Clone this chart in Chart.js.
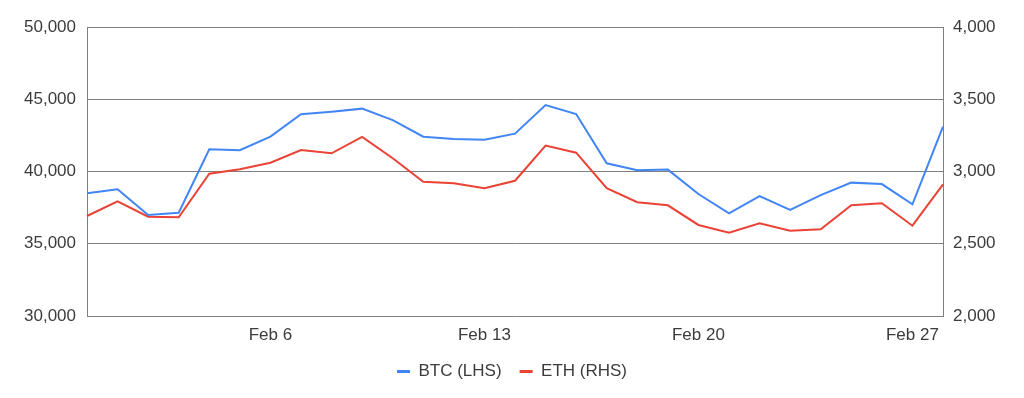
<!DOCTYPE html>
<html>
<head>
<meta charset="utf-8">
<script src="https://cdn.jsdelivr.net/npm/chart.js@4"></script>
<style>
  html, body { margin: 0; padding: 0; background: #fff; }
  #wrap { width: 1024px; height: 398px; position: relative; }
</style>
</head>
<body>
<div id="wrap"><canvas id="c" width="1024" height="398"></canvas></div>
<script>
const dates = ["Jan 31","Feb 1","Feb 2","Feb 3","Feb 4","Feb 5","Feb 6","Feb 7","Feb 8","Feb 9","Feb 10","Feb 11","Feb 12","Feb 13","Feb 14","Feb 15","Feb 16","Feb 17","Feb 18","Feb 19","Feb 20","Feb 21","Feb 22","Feb 23","Feb 24","Feb 25","Feb 26","Feb 27","Feb 28"];
const btc = [38500, 38770, 36990, 37150, 41540, 41470, 42410, 43960, 44140, 44350, 43560, 42410, 42250, 42200, 42620, 44600, 43980, 40570, 40080, 40130, 38440, 37110, 38300, 37340, 38370, 39230, 39130, 37730, 43100];
const eth = [2692, 2794, 2687, 2683, 2985, 3015, 3061, 3149, 3126, 3239, 3092, 2929, 2918, 2884, 2936, 3179, 3130, 2884, 2787, 2766, 2630, 2577, 2642, 2590, 2600, 2766, 2780, 2625, 2911];
const shownDates = ["Feb 6", "Feb 13", "Feb 20", "Feb 27"];
const leftRange = [30000, 50000, 5000];
const rightRange = [2000, 4000, 500];
const seriesNames = ["BTC (LHS)", "ETH (RHS)"];

const BLUE = "#4285F4", RED = "#EA4335", GRID = "#808080", TXT = "#3c3c3c";
const FONT = { family: "'Liberation Sans', Arial, sans-serif", size: 17 };

new Chart(document.getElementById("c"), {
  type: "line",
  data: {
    labels: dates,
    datasets: [
      { label: seriesNames[0], data: btc, yAxisID: "y", borderColor: BLUE, backgroundColor: BLUE, borderWidth: 2, pointRadius: 0, tension: 0, order: 1 },
      { label: seriesNames[1], data: eth, yAxisID: "y1", borderColor: RED, backgroundColor: RED, borderWidth: 2, pointRadius: 0, tension: 0, order: 2 }
    ]
  },
  options: {
    responsive: false,
    animation: false,
    layout: { padding: { top: 27, left: 0, right: 0, bottom: 8 } },
    plugins: {
      tooltip: { enabled: false },
      legend: {
        position: "bottom",
        labels: {
          font: FONT, color: TXT, boxWidth: 13, boxHeight: 3, padding: 18,
          generateLabels(chart) {
            const items = Chart.defaults.plugins.legend.labels.generateLabels(chart);
            items.forEach(it => { it.lineWidth = 0; it.strokeStyle = it.fillStyle; });
            return items;
          }
        }
      }
    },
    scales: {
      x: {
        type: "category",
        offset: false,
        grid: { display: false },
        border: { display: false },
        ticks: {
          autoSkip: false, maxRotation: 0, minRotation: 0, padding: 1,
          font: FONT, color: TXT,
          callback(v) { const l = this.getLabelForValue(v); return shownDates.includes(l) ? l : ""; }
        },
        afterFit(s) { s.height = 29; }
      },
      y: {
        position: "left",
        min: leftRange[0], max: leftRange[1],
        grid: { color: GRID, lineWidth: 1, drawTicks: false },
        border: { display: true, color: GRID, width: 1 },
        ticks: { stepSize: leftRange[2], font: FONT, color: TXT, padding: 11,
          callback: v => v.toLocaleString("en-US") },
        afterFit(s) { s.width = 87; }
      },
      y1: {
        position: "right",
        min: rightRange[0], max: rightRange[1],
        grid: { drawOnChartArea: false, drawTicks: false },
        border: { display: true, color: GRID, width: 1 },
        ticks: { stepSize: rightRange[2], font: FONT, color: TXT, padding: 10,
          callback: v => v.toLocaleString("en-US") },
        afterFit(s) { s.width = 81; }
      }
    }
  }
});
</script>
</body>
</html>
